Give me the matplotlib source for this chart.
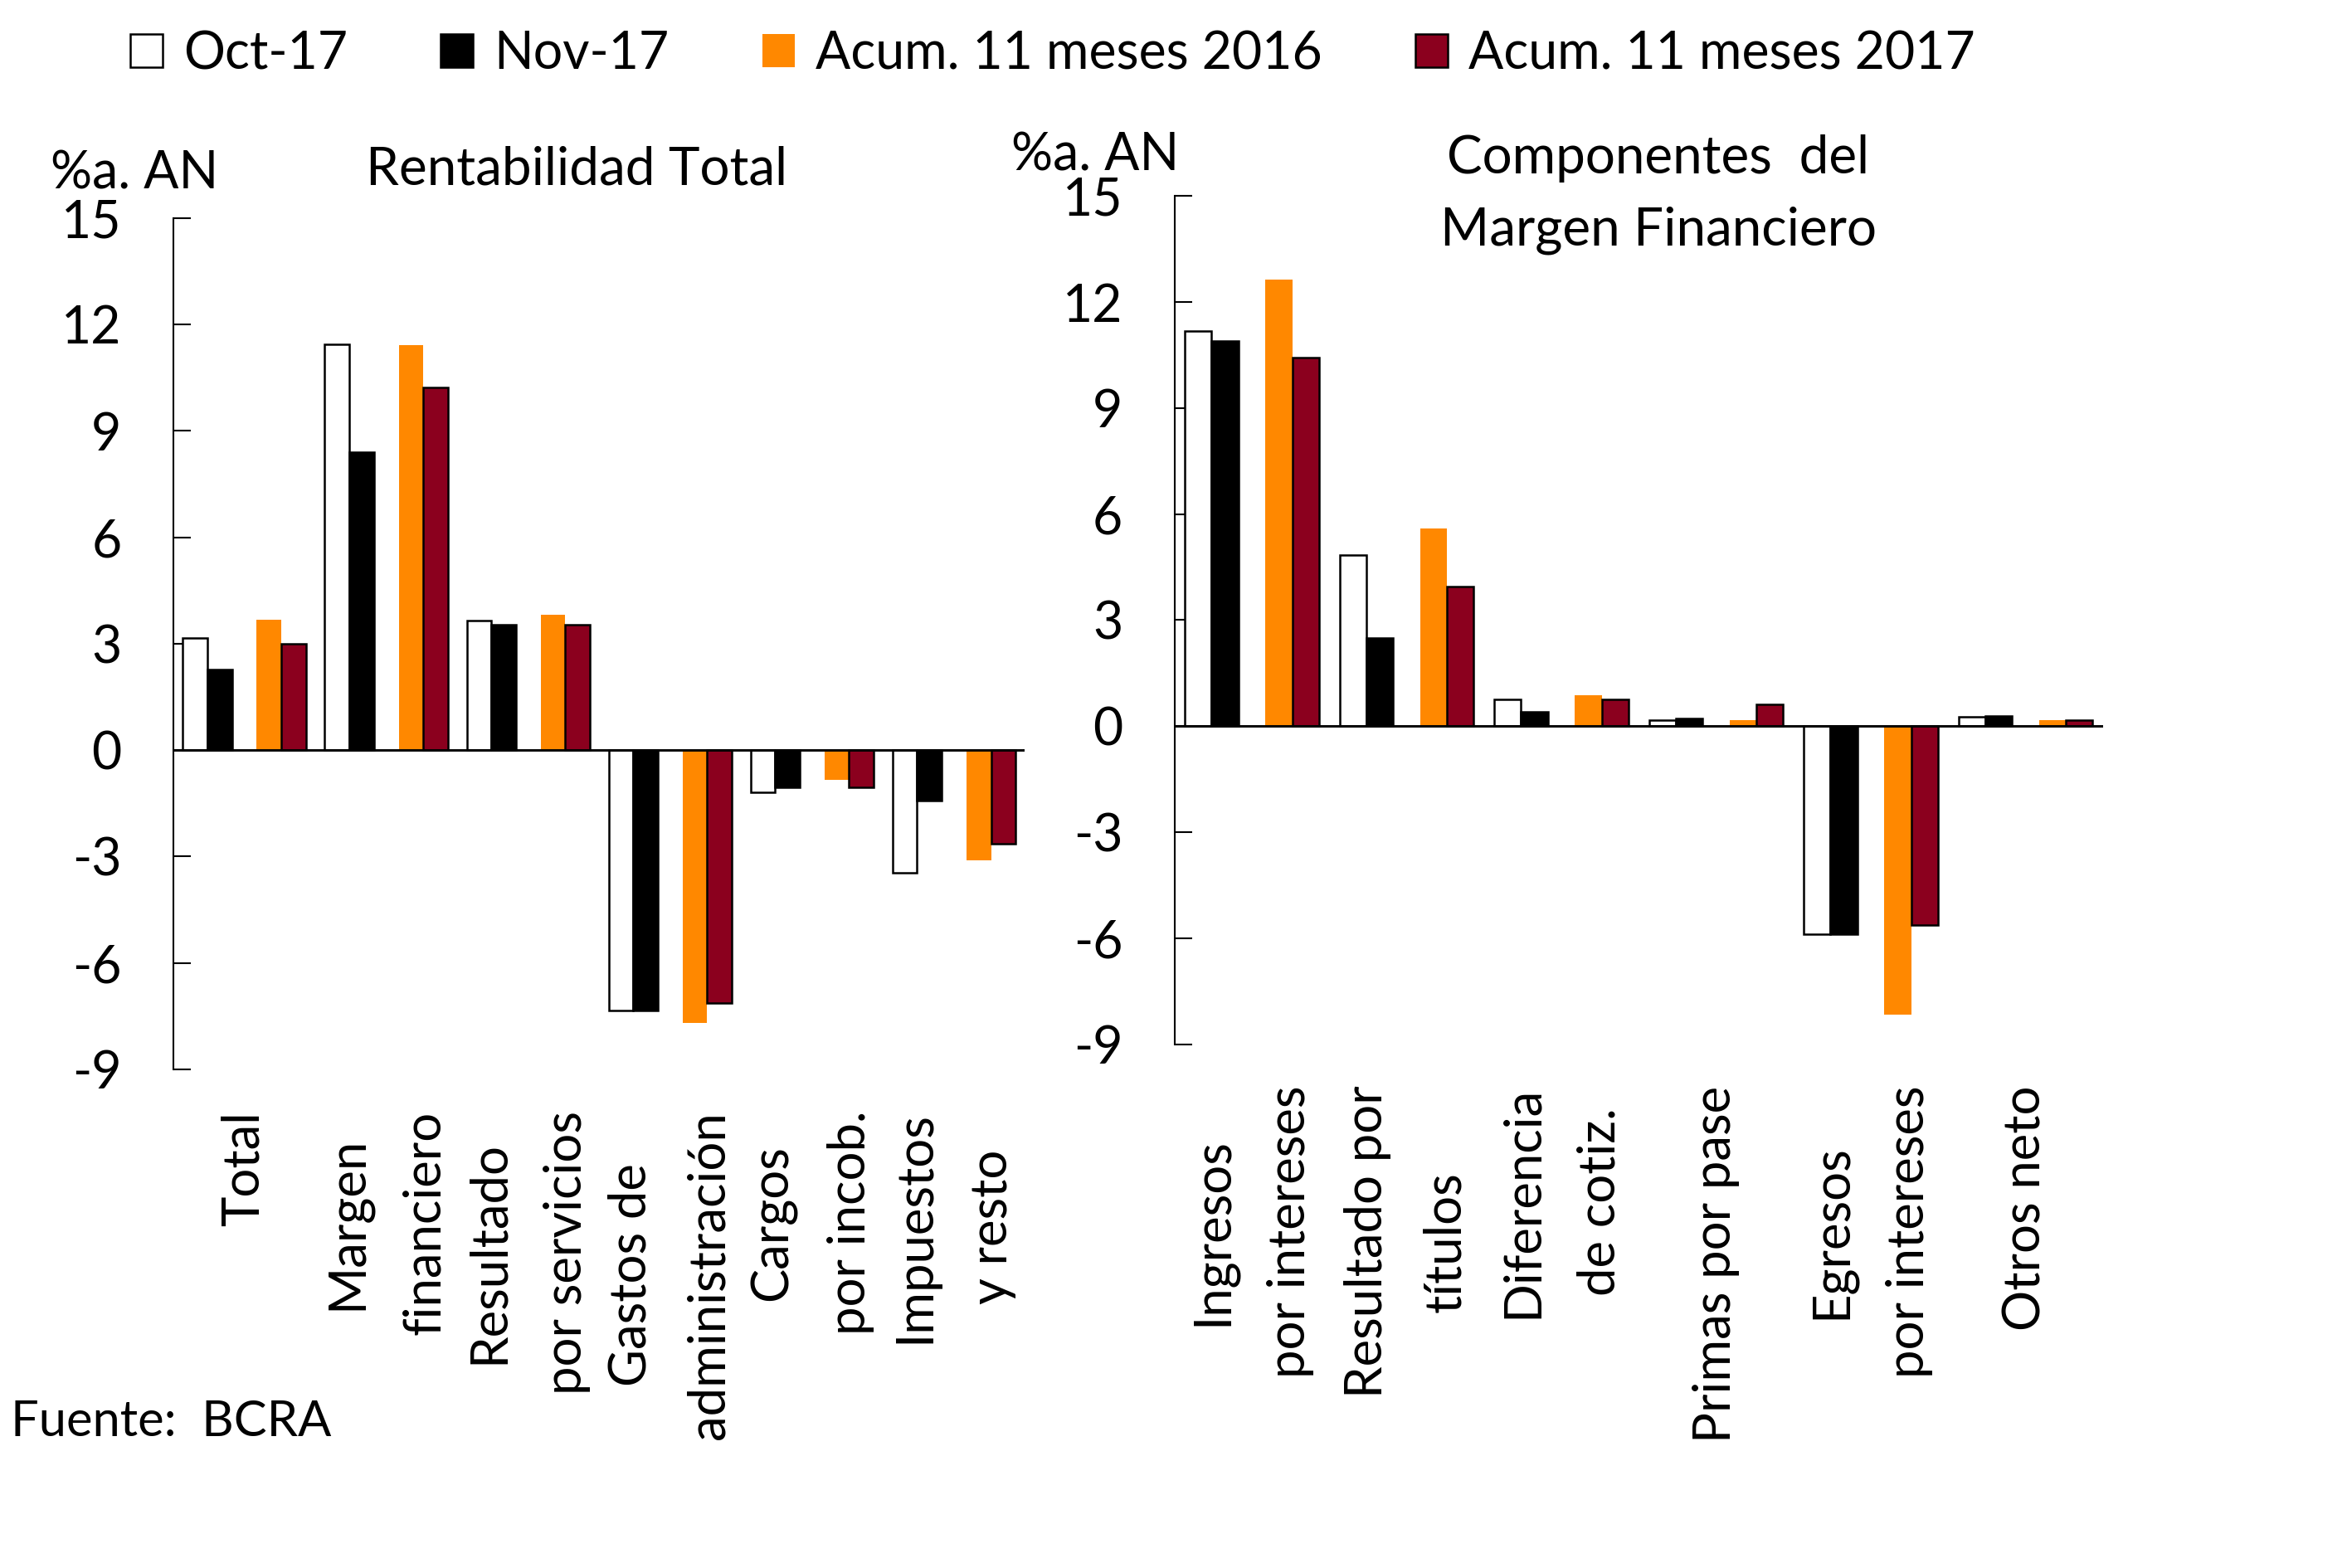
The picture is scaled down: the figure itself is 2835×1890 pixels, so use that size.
import numpy as np
import matplotlib
matplotlib.use('Agg')
import matplotlib.pyplot as plt
from matplotlib.patches import Patch

plt.rcParams['font.family'] = ['Lato', 'DejaVu Sans']
plt.rcParams['font.size'] = 14
plt.rcParams['axes.unicode_minus'] = False

series = ['Oct-17', 'Nov-17', 'Acum. 11 meses 2016', 'Acum. 11 meses 2017']
colors = ['white', 'black', '#FF8800', '#8B001E']
edges = ['black', 'black', 'none', 'black']

# Rentabilidad Total
cat_left = ['Total', 'Margen\nfinanciero', 'Resultado\npor servicios',
            'Gastos de\nadministración', 'Cargos\npor incob.', 'Impuestos\ny resto']
oct17_l = [3.17, 11.44, 3.65, -7.34, -1.20, -3.45]
nov17_l = [2.27, 8.39, 3.54, -7.34, -1.06, -1.43]
ac16_l = [3.67, 11.42, 3.81, -7.68, -0.84, -3.10]
ac17_l = [2.99, 10.22, 3.53, -7.14, -1.04, -2.65]

# Componentes del Margen Financiero
cat_right = ['Ingresos\npor intereses', 'Resultado por\ntítulos', 'Diferencia\nde cotiz.',
             'Primas por pase', 'Egresos\npor intereses', 'Otros neto']
oct17_r = [11.17, 4.85, 0.75, 0.16, -5.89, 0.27]
nov17_r = [10.89, 2.50, 0.40, 0.23, -5.89, 0.29]
ac16_r = [12.63, 5.59, 0.88, 0.18, -8.17, 0.18]
ac17_r = [10.44, 3.95, 0.75, 0.61, -5.62, 0.18]

fig = plt.figure(figsize=(9.45, 6.3), dpi=300)

offsets = [-0.347, -0.174, 0.174, 0.347]
w = 0.173


def draw(ax, cats, data):
    x = np.arange(len(cats))
    for k, vals in enumerate(data):
        ax.bar(x + offsets[k], vals, w, color=colors[k], edgecolor=edges[k],
               linewidth=0.6, zorder=2)
    ax.axhline(0, color='black', lw=0.7, zorder=3)
    ax.set_xlim(-0.5, len(cats) - 0.5)
    ax.set_ylim(-9, 15)
    ax.set_yticks(range(-9, 16, 3))
    ax.set_xticks(x)
    ax.set_xticklabels(cats, rotation=90, ha='center', va='top',
                       multialignment='center', linespacing=1.8, fontsize=14.8)
    ax.tick_params(axis='x', length=0, pad=12)
    ax.tick_params(axis='y', direction='in', length=5, width=0.5, pad=15, labelsize=15)
    for s in ['top', 'right', 'bottom']:
        ax.spines[s].set_visible(False)
    ax.spines['left'].set_linewidth(0.5)


ax1 = fig.add_axes([0.0737, 0.318, 0.3621, 0.543])
draw(ax1, cat_left, [oct17_l, nov17_l, ac16_l, ac17_l])

ax2 = fig.add_axes([0.4994, 0.334, 0.3947, 0.541])
draw(ax2, cat_right, [oct17_r, nov17_r, ac16_r, ac17_r])

fig.text(0.0215, 0.889, '%a. AN', ha='left', va='center', fontsize=15)
fig.text(0.4300, 0.901, '%a. AN', ha='left', va='center', fontsize=15)
fig.text(0.245, 0.892, 'Rentabilidad Total', ha='center', va='center', fontsize=15.3)
fig.text(0.705, 0.876, 'Componentes  del\nMargen Financiero', ha='center', va='center',
         fontsize=15.3, linespacing=1.6)
fig.text(0.0045, 0.093, 'Fuente:  BCRA', ha='left', va='center', fontsize=14.3)

handles = [Patch(facecolor=c, edgecolor=e, linewidth=0.6) for c, e in zip(colors, edges)]
fig.legend(handles, series, loc='center left', bbox_to_anchor=(0.0554, 0.9656), ncol=4,
           frameon=False, borderpad=0, borderaxespad=0, fontsize=15,
           handlelength=0.62, handleheight=0.6, handletextpad=0.4, columnspacing=1.8)

fig.savefig('out.png', dpi=300)
